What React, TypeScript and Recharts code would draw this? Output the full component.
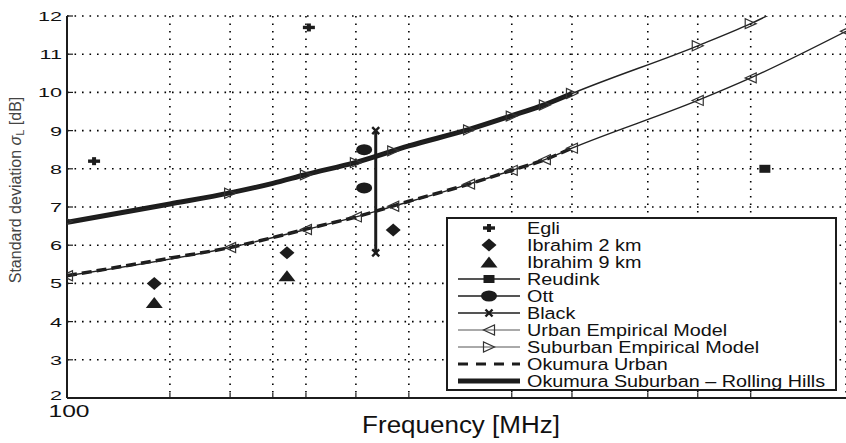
import { ComposedChart, Line, Scatter, XAxis, YAxis, CartesianGrid, Legend } from 'recharts';

const FONT = '"Liberation Sans", Arial, Helvetica, sans-serif';
const INK = '#1c1c1c';

const X_TICKS = [100, 200, 300, 400, 500, 700, 1000, 2000, 3000, 5000, 7000, 10000];
const Y_TICKS = [2, 3, 4, 5, 6, 7, 8, 9, 10, 11, 12];

// Okumura curves (MHz -> dB)
const OKU_FREQ = [100, 200, 300, 400, 500, 700, 1000, 1500, 2000, 2500, 3000];
const OKU_SUBURBAN = [6.6, 7.08, 7.37, 7.62, 7.85, 8.17, 8.6, 9.03, 9.39, 9.68, 9.97];
const OKU_URBAN = [5.2, 5.66, 5.94, 6.2, 6.42, 6.74, 7.15, 7.6, 7.96, 8.24, 8.54];

// empirical models, marker frequencies
const EMP_FREQ = [100, 300, 500, 700, 900, 1500, 2000, 2500, 3000, 7000, 10000, 19000];
const EMP_SUBURBAN = [6.62, 7.36, 7.84, 8.16, 8.47, 9.02, 9.38, 9.67, 9.97, 11.22, 11.8, 13.1];
const EMP_URBAN = [5.2, 5.94, 6.41, 6.74, 7.02, 7.6, 7.96, 8.24, 8.54, 9.79, 10.38, 11.6];

// measurements
const EGLI_FREQ = [120, 510];
const EGLI_SIGMA = [8.2, 11.7];
const IBR2_FREQ = [180, 440, 900];
const IBR2_SIGMA = [5.0, 5.8, 6.4];
const IBR9_FREQ = [180, 440];
const IBR9_SIGMA = [4.5, 5.2];
const REUDINK_FREQ = [11000];
const REUDINK_SIGMA = [8.0];
const OTT_FREQ = [740, 740];
const OTT_SIGMA = [8.5, 7.5];
const BLACK_FREQ = [800, 800];
const BLACK_SIGMA = [9.0, 5.8];

const LEGEND_LABELS = [
  'Egli',
  'Ibrahim 2 km',
  'Ibrahim 9 km',
  'Reudink',
  'Ott',
  'Black',
  'Urban Empirical Model',
  'Suburban Empirical Model',
  'Okumura Urban',
  'Okumura Suburban \u2013 Rolling Hills',
];

const zip = (fs: number[], ys: number[]) => fs.map((f, i) => ({ f, y: ys[i] }));

const okuSub = zip(OKU_FREQ, OKU_SUBURBAN);
const okuUrb = zip(OKU_FREQ, OKU_URBAN);
const empSub = zip(EMP_FREQ, EMP_SUBURBAN);
const empUrb = zip(EMP_FREQ, EMP_URBAN);
const egli = zip(EGLI_FREQ, EGLI_SIGMA);
const ibr2 = zip(IBR2_FREQ, IBR2_SIGMA);
const ibr9 = zip(IBR9_FREQ, IBR9_SIGMA);
const reudink = zip(REUDINK_FREQ, REUDINK_SIGMA);
const ott = zip(OTT_FREQ, OTT_SIGMA);
const black = zip(BLACK_FREQ, BLACK_SIGMA);

// marker shapes
const Plus = ({ cx, cy }: any) => (
  <g fill={INK}>
    <rect x={cx - 6} y={cy - 1.7} width={12} height={3.4} />
    <rect x={cx - 2} y={cy - 4} width={4} height={8} />
  </g>
);
const Diamond = ({ cx, cy }: any) => (
  <polygon points={`${cx},${cy - 6.5} ${cx + 7.5},${cy} ${cx},${cy + 6.5} ${cx - 7.5},${cy}`} fill={INK} />
);
const Tri = ({ cx, cy }: any) => (
  <polygon points={`${cx},${cy - 5.5} ${cx + 8.5},${cy + 5.5} ${cx - 8.5},${cy + 5.5}`} fill={INK} />
);
const Square = ({ cx, cy }: any) => <rect x={cx - 5.5} y={cy - 4} width={11} height={8} fill={INK} />;
const Blob = ({ cx, cy }: any) => <ellipse cx={cx} cy={cy} rx={8} ry={5.5} fill={INK} />;
const Cross = ({ cx, cy }: any) => (
  <g stroke={INK} strokeWidth={2.4}>
    <line x1={cx - 3.5} y1={cy - 3.5} x2={cx + 3.5} y2={cy + 3.5} />
    <line x1={cx - 3.5} y1={cy + 3.5} x2={cx + 3.5} y2={cy - 3.5} />
  </g>
);
const TriRight = ({ cx, cy }: any) => (
  <polygon points={`${cx - 5.5},${cy - 5} ${cx - 5.5},${cy + 5} ${cx + 5.5},${cy}`} fill="none" stroke="#333" strokeWidth={1.2} />
);
const TriLeft = ({ cx, cy }: any) => (
  <polygon points={`${cx + 5.5},${cy - 5} ${cx + 5.5},${cy + 5} ${cx - 5.5},${cy}`} fill="none" stroke="#333" strokeWidth={1.2} />
);

function BottomTick({ x, y, payload }: any) {
  return (
    <g>
      <line x1={x} x2={x} y1={y} y2={y - 5} stroke={INK} strokeWidth={1.2} />
      {payload.value === 100 && (
        <text transform={`translate(${x + 2},${y + 19}) scale(1.45,1)`} textAnchor="middle" fontSize={17} fill="#111" fontFamily={FONT}>
          100
        </text>
      )}
    </g>
  );
}

function TopTick({ x, y }: any) {
  return <line x1={x} x2={x} y1={y} y2={y + 5} stroke={INK} strokeWidth={1.2} />;
}

function LeftTick({ x, y, payload }: any) {
  // the bottom label sits a little higher so it clears "100"
  const dy = payload.value === 2 ? 2 : 5;
  return (
    <g>
      <line x1={x} x2={x + 6} y1={y} y2={y} stroke={INK} strokeWidth={1.2} />
      <text transform={`translate(${x - 5},${y + dy}) scale(1.6,1)`} textAnchor="end" fontSize={13.5} fill="#111" fontFamily={FONT}>
        {payload.value}
      </text>
    </g>
  );
}

function legendSymbol(i: number, cy: number) {
  const x1 = 12;
  const x2 = 74;
  const mx = 43;
  switch (i) {
    case 0:
      return <Plus cx={mx} cy={cy} />;
    case 1:
      return <Diamond cx={mx} cy={cy} />;
    case 2:
      return <Tri cx={mx} cy={cy} />;
    case 3:
      return (
        <g>
          <line x1={x1} x2={x2} y1={cy} y2={cy} stroke={INK} strokeWidth={1.6} />
          <Square cx={mx} cy={cy} />
        </g>
      );
    case 4:
      return (
        <g>
          <line x1={x1} x2={x2} y1={cy} y2={cy} stroke={INK} strokeWidth={1.6} />
          <Blob cx={mx} cy={cy} />
        </g>
      );
    case 5:
      return (
        <g>
          <line x1={x1} x2={x2} y1={cy} y2={cy} stroke={INK} strokeWidth={1.6} />
          <Cross cx={mx} cy={cy} />
        </g>
      );
    case 6:
      return (
        <g>
          <line x1={x1} x2={x2} y1={cy} y2={cy} stroke="#555" strokeWidth={1} />
          <TriLeft cx={mx} cy={cy} />
        </g>
      );
    case 7:
      return (
        <g>
          <line x1={x1} x2={x2} y1={cy} y2={cy} stroke="#555" strokeWidth={1} />
          <TriRight cx={mx} cy={cy} />
        </g>
      );
    case 8:
      return <line x1={x1} x2={x2} y1={cy} y2={cy} stroke={INK} strokeWidth={3} strokeDasharray="10 8" />;
    default:
      return <line x1={x1} x2={x2} y1={cy} y2={cy} stroke={INK} strokeWidth={5} />;
  }
}

function LegendBox() {
  return (
    <svg width={391} height={174} style={{ display: 'block' }}>
      <rect x={1} y={1} width={389} height={172} fill="#fff" stroke={INK} strokeWidth={2} />
      {LEGEND_LABELS.map((label, i) => {
        const cy = 11 + 17 * i;
        return (
          <g key={label}>
            {legendSymbol(i, cy)}
            <text transform={`translate(81,${cy + 6}) scale(1.2,1)`} fontSize={16.5} fill="#111" fontFamily={FONT}>
              {label}
            </text>
          </g>
        );
      })}
    </svg>
  );
}

export default function App() {
  return (
    <div style={{ position: 'absolute', left: 0, top: 0, width: 846, height: 443, overflow: 'hidden', background: '#fff', fontFamily: FONT }}>
      <svg width={846} height={443} style={{ position: 'absolute', left: 0, top: 0 }}>
        <text transform="translate(461,433) scale(1.13,1)" textAnchor="middle" fontSize={23} fill="#111" fontFamily={FONT}>
          Frequency [MHz]
        </text>
        <text transform="translate(21,190) rotate(-90)" textAnchor="middle" fontSize={16} fill="#444" fontFamily={FONT}>
          Standard deviation <tspan fontStyle="italic">σ</tspan>
          <tspan dy={3} fontSize={11}>L</tspan>
          <tspan dy={-3}> [dB]</tspan>
        </text>
      </svg>
      <ComposedChart width={846} height={443} margin={{ top: 16, right: 0, bottom: 0, left: 0 }} style={{ position: 'absolute', left: 0, top: 0 }}>
        <CartesianGrid xAxisId="b" yAxisId="l" stroke="#000" strokeWidth={1.6} strokeDasharray="1.6 5.9" />
        <XAxis
          xAxisId="b"
          dataKey="f"
          type="number"
          scale="log"
          domain={[100, 19000]}
          allowDataOverflow
          ticks={X_TICKS}
          interval={0}
          height={45}
          tickSize={0}
          tickMargin={0}
          tickLine={false}
          axisLine={{ stroke: INK, strokeWidth: 2 }}
          tick={(p: any) => <BottomTick {...p} />}
        />
        <XAxis
          xAxisId="t"
          orientation="top"
          dataKey="f"
          type="number"
          scale="log"
          domain={[100, 19000]}
          allowDataOverflow
          ticks={X_TICKS}
          interval={0}
          height={0}
          tickSize={0}
          tickMargin={0}
          tickLine={false}
          axisLine={{ stroke: INK, strokeWidth: 2 }}
          tick={(p: any) => <TopTick {...p} />}
        />
        <YAxis
          yAxisId="l"
          dataKey="y"
          type="number"
          domain={[2, 12]}
          allowDataOverflow
          ticks={Y_TICKS}
          interval={0}
          width={67}
          tickSize={0}
          tickMargin={0}
          tickLine={false}
          axisLine={{ stroke: INK, strokeWidth: 2 }}
          tick={(p: any) => <LeftTick {...p} />}
        />
        <Legend
          layout="horizontal"
          verticalAlign="middle"
          align="center"
          content={() => <LegendBox />}
          wrapperStyle={{ left: 446, top: 217, width: 391, height: 174, lineHeight: 0 }}
        />
        <Line xAxisId="b" yAxisId="l" data={okuSub} dataKey="y" type="monotone" stroke={INK} strokeWidth={5} dot={false} isAnimationActive={false} />
        <Line xAxisId="b" yAxisId="l" data={okuUrb} dataKey="y" type="monotone" stroke={INK} strokeWidth={3.5} strokeDasharray="10 5" dot={false} isAnimationActive={false} />
        <Line
          xAxisId="b"
          yAxisId="l"
          data={empUrb}
          dataKey="y"
          type="monotone"
          stroke="#222"
          strokeWidth={1.4}
          dot={(p: any) => <TriLeft key={`u${p.index}`} cx={p.cx} cy={p.cy} />}
          isAnimationActive={false}
        />
        <Line
          xAxisId="b"
          yAxisId="l"
          data={empSub}
          dataKey="y"
          type="monotone"
          stroke="#222"
          strokeWidth={1.4}
          dot={(p: any) => <TriRight key={`s${p.index}`} cx={p.cx} cy={p.cy} />}
          isAnimationActive={false}
        />
        <Line
          xAxisId="b"
          yAxisId="l"
          data={black}
          dataKey="y"
          type="linear"
          stroke={INK}
          strokeWidth={3}
          dot={(p: any) => <Cross key={`b${p.index}`} cx={p.cx} cy={p.cy} />}
          isAnimationActive={false}
        />
        <Scatter xAxisId="b" yAxisId="l" data={egli} shape={(p: any) => <Plus cx={p.cx} cy={p.cy} />} isAnimationActive={false} />
        <Scatter xAxisId="b" yAxisId="l" data={ibr2} shape={(p: any) => <Diamond cx={p.cx} cy={p.cy} />} isAnimationActive={false} />
        <Scatter xAxisId="b" yAxisId="l" data={ibr9} shape={(p: any) => <Tri cx={p.cx} cy={p.cy} />} isAnimationActive={false} />
        <Scatter xAxisId="b" yAxisId="l" data={reudink} shape={(p: any) => <Square cx={p.cx} cy={p.cy} />} isAnimationActive={false} />
        <Scatter xAxisId="b" yAxisId="l" data={ott} shape={(p: any) => <Blob cx={p.cx} cy={p.cy} />} isAnimationActive={false} />
      </ComposedChart>
    </div>
  );
}
